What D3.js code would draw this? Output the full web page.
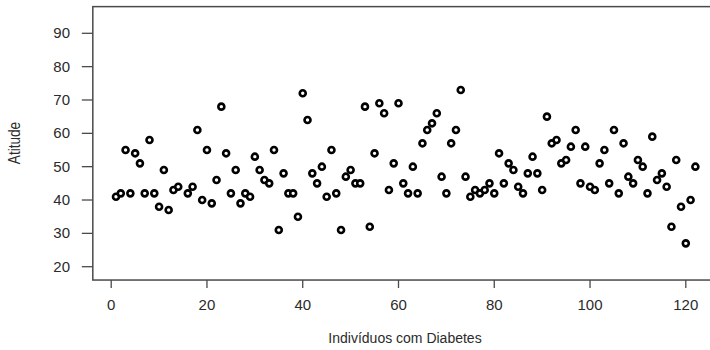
<!DOCTYPE html>
<html>
<head>
<meta charset="utf-8">
<script src="https://cdn.jsdelivr.net/npm/d3@7"></script>
<style>
  html, body { margin: 0; padding: 0; background: #fff; }
  svg { display: block; }
  text { font-family: "Liberation Sans", Arial, sans-serif; fill: #2b2b2b; }
</style>
</head>
<body>
<div id="chart"></div>
<script>
// Data: individual index and attitude score (index 15 missing)
const individuals = d3.range(1, 123);
const attitude = [
  41, 42, 55, 42, 54, 51, 42, 58, 42, 38,
  49, 37, 43, 44, null, 42, 44, 61, 40, 55,
  39, 46, 68, 54, 42, 49, 39, 42, 41, 53,
  49, 46, 45, 55, 31, 48, 42, 42, 35, 72,
  64, 48, 45, 50, 41, 55, 42, 31, 47, 49,
  45, 45, 68, 32, 54, 69, 66, 43, 51, 69,
  45, 42, 50, 42, 57, 61, 63, 66, 47, 42,
  57, 61, 73, 47, 41, 43, 42, 43, 45, 42,
  54, 45, 51, 49, 44, 42, 48, 53, 48, 43,
  65, 57, 58, 51, 52, 56, 61, 45, 56, 44,
  43, 51, 55, 45, 61, 42, 57, 47, 45, 52,
  50, 42, 59, 46, 48, 44, 32, 52, 38, 27,
  40, 50
];
const xTicks = [0, 20, 40, 60, 80, 100, 120];
const yTicks = [20, 30, 40, 50, 60, 70, 80, 90];
const xLabel = "Indivíduos com Diabetes";
const yLabel = "Atitude";

const W = 710, H = 350;
const svg = d3.select("#chart").append("svg").attr("width", W).attr("height", H);

const x = d3.scaleLinear().domain([0, 120]).range([111.2, 685.8]);
const y = d3.scaleLinear().domain([20, 90]).range([266.7, 33.3]);

// plot box (R-style 4% extension in x)
const xMin = 1 - 0.04 * 121, xMax = 122 + 0.04 * 121;
const box = { x0: x(xMin), x1: x(xMax), y0: y(98), y1: y(16) };
svg.append("rect")
  .attr("x", box.x0).attr("y", box.y0)
  .attr("width", box.x1 - box.x0).attr("height", box.y1 - box.y0)
  .attr("fill", "none").attr("stroke", "#4a4a4a").attr("stroke-width", 1.5);

// y axis
const yAxis = svg.append("g");
yAxis.selectAll("line").data(yTicks).join("line")
  .attr("x1", box.x0 - 11).attr("x2", box.x0)
  .attr("y1", d => y(d)).attr("y2", d => y(d))
  .attr("stroke", "#4a4a4a").attr("stroke-width", 1.3);
yAxis.selectAll("text").data(yTicks).join("text")
  .attr("x", 70).attr("y", d => y(d) + 1)
  .attr("text-anchor", "end").attr("dominant-baseline", "middle")
  .attr("font-size", 15).text(d => d);

// x axis
const xAxis = svg.append("g");
xAxis.selectAll("line").data(xTicks).join("line")
  .attr("x1", d => x(d)).attr("x2", d => x(d))
  .attr("y1", box.y1).attr("y2", box.y1 + 8)
  .attr("stroke", "#4a4a4a").attr("stroke-width", 1.3);
xAxis.selectAll("text").data(xTicks).join("text")
  .attr("x", d => x(d)).attr("y", 306)
  .attr("text-anchor", "middle").attr("dominant-baseline", "middle")
  .attr("font-size", 15).text(d => d);

// axis titles
svg.append("text")
  .attr("x", 405).attr("y", 339)
  .attr("text-anchor", "middle").attr("dominant-baseline", "middle")
  .attr("font-size", 14).text(xLabel);
svg.append("text")
  .attr("transform", "translate(16,143) rotate(-90) scale(0.85,1)")
  .attr("text-anchor", "middle").attr("dominant-baseline", "middle")
  .attr("font-size", 16).text(yLabel);

// points
const pts = individuals.map((d, i) => ({ i: d, v: attitude[i] })).filter(d => d.v != null);
svg.append("g").selectAll("circle").data(pts).join("circle")
  .attr("cx", d => x(d.i)).attr("cy", d => y(d.v))
  .attr("r", 3.0)
  .attr("fill", "#fff").attr("stroke", "#000").attr("stroke-width", 2.6);
</script>
</body>
</html>
